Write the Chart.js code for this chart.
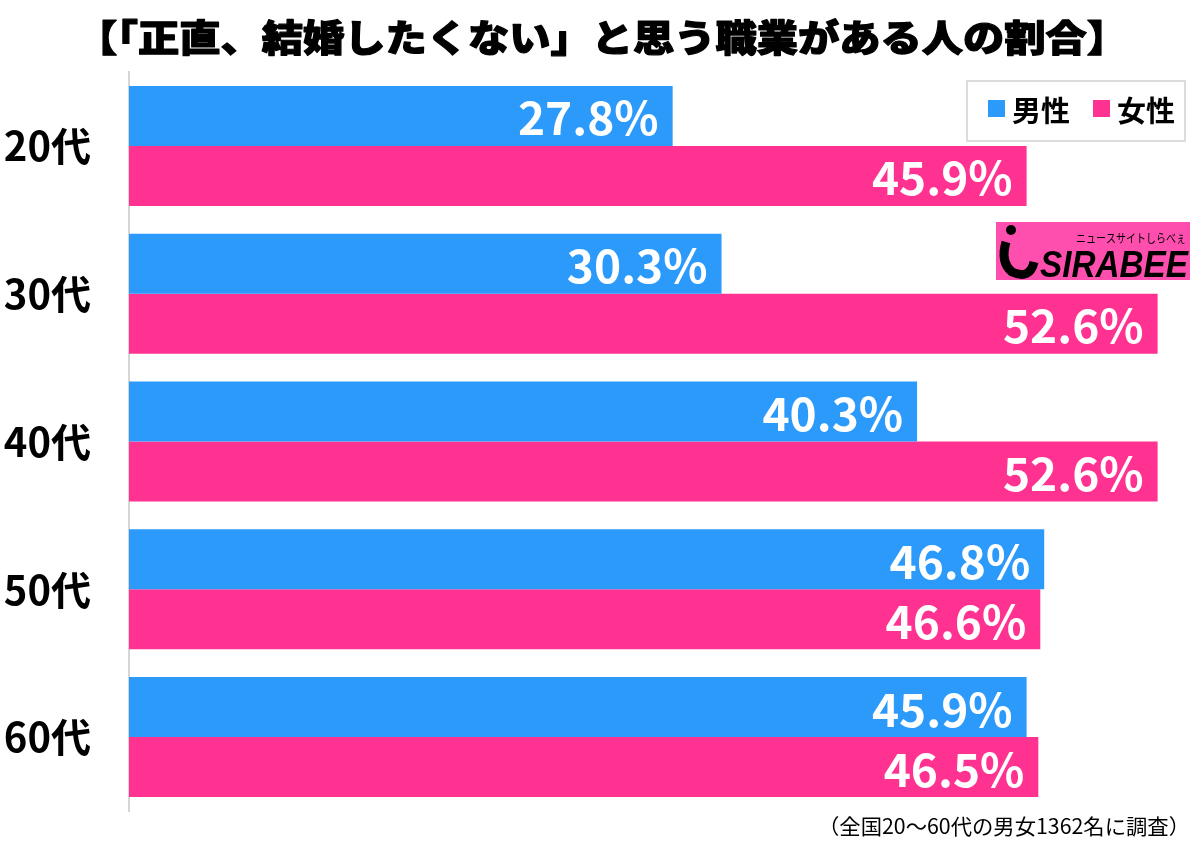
<!DOCTYPE html>
<html>
<head>
<meta charset="utf-8">
<script src="https://cdn.jsdelivr.net/npm/chart.js@4.4.1/dist/chart.umd.min.js"></script>
<style>
html,body{margin:0;padding:0;background:#fff;}
#wrap{width:1202px;height:848px;}
</style>
</head>
<body>
<div id="wrap"><canvas id="c" width="1202" height="848"></canvas></div>
<script>
const categories = ['20代', '30代', '40代', '50代', '60代'];
const seriesNames = ['男性', '女性'];
const maleValues = [27.8, 30.3, 40.3, 46.8, 45.9];
const femaleValues = [45.9, 52.6, 52.6, 46.6, 46.5];
const titleText = '【「正直、結婚したくない」と思う職業がある人の割合】';
const noteText = '（全国20〜60代の男女1362名に調査）';
const logoText = 'SIRABEE';
const logoSub = 'ニュースサイトしらべぇ';

const BLUE = '#2b9afa';
const PINK = '#ff3291';
const FONT = "'Noto Sans CJK JP', 'Noto Sans', sans-serif";

const decor = {
  id: 'decor',
  afterDraw(chart) {
    const ctx = chart.ctx;
    ctx.save();
    // Title
    ctx.fillStyle = '#000';
    ctx.strokeStyle = '#000';
    ctx.lineWidth = 1.2;
    ctx.lineJoin = 'round';
    ctx.font = `900 37px ${FONT}`;
    ctx.textBaseline = 'middle';
    ctx.textAlign = 'left';
    const tw = ctx.measureText(titleText).width;
    ctx.save();
    ctx.translate(76, 38);
    ctx.scale(1052 / tw, 1);
    ctx.fillText(titleText, 0, 0);
    ctx.strokeText(titleText, 0, 0);
    ctx.restore();

    // Data labels
    ctx.font = `bold 46px ${FONT}`;
    ctx.fillStyle = '#fff';
    ctx.textAlign = 'right';
    ctx.textBaseline = 'middle';
    chart.data.datasets.forEach((ds, di) => {
      chart.getDatasetMeta(di).data.forEach((bar, i) => {
        ctx.fillText(ds.data[i].toFixed(1) + '%', bar.x - 14, bar.y + 2);
      });
    });

    // Legend box
    ctx.fillStyle = '#fff';
    ctx.fillRect(967, 81, 218, 60);
    ctx.strokeStyle = '#dcdcdc';
    ctx.lineWidth = 2;
    ctx.strokeRect(967, 81, 218, 60);
    const legendX = [988, 1093];
    const colors = [BLUE, PINK];
    ctx.font = `bold 29px ${FONT}`;
    ctx.textAlign = 'left';
    ctx.textBaseline = 'middle';
    seriesNames.forEach((n, k) => {
      ctx.fillStyle = colors[k];
      ctx.fillRect(legendX[k], 100, 17, 17);
      ctx.fillStyle = '#000';
      ctx.fillText(n, legendX[k] + 24, 111);
    });

    // Logo
    ctx.fillStyle = '#ff4fae';
    ctx.fillRect(996, 222, 194, 58);
    ctx.fillStyle = '#000';
    ctx.beginPath();
    ctx.arc(1011, 230, 5, 0, Math.PI * 2);
    ctx.fill();
    ctx.lineWidth = 9;
    ctx.strokeStyle = '#000';
    ctx.beginPath();
    ctx.moveTo(1006, 242);
    ctx.quadraticCurveTo(1000, 262, 1012, 272);
    ctx.quadraticCurveTo(1030, 280, 1034, 262);
    ctx.stroke();
    ctx.font = `italic bold 36px 'Liberation Sans', sans-serif`;
    ctx.textBaseline = 'alphabetic';
    ctx.textAlign = 'left';
    const lw = ctx.measureText(logoText).width;
    ctx.save();
    ctx.translate(1040, 277);
    ctx.scale(148 / lw, 1);
    ctx.fillText(logoText, 0, 0);
    ctx.restore();
    ctx.font = `12px ${FONT}`;
    const sw = ctx.measureText(logoSub).width;
    ctx.save();
    ctx.translate(1076, 243);
    ctx.scale(110 / sw, 1);
    ctx.fillText(logoSub, 0, 0);
    ctx.restore();

    // Footnote
    ctx.fillStyle = '#000';
    ctx.font = `21px ${FONT}`;
    ctx.textAlign = 'right';
    ctx.textBaseline = 'middle';
    const nw = ctx.measureText(noteText).width;
    ctx.save();
    ctx.translate(1190, 826);
    ctx.scale(372 / nw, 1);
    ctx.fillText(noteText, 0, 0);
    ctx.restore();
    ctx.restore();
  }
};

new Chart(document.getElementById('c'), {
  type: 'bar',
  data: {
    labels: categories,
    datasets: [
      { label: seriesNames[0], data: maleValues, backgroundColor: BLUE, borderWidth: 0 },
      { label: seriesNames[1], data: femaleValues, backgroundColor: PINK, borderWidth: 0 }
    ]
  },
  options: {
    indexAxis: 'y',
    responsive: false,
    animation: false,
    categoryPercentage: 0.812,
    barPercentage: 1.0,
    layout: { padding: { top: 72, bottom: 37, right: 17, left: 0 } },
    plugins: { legend: { display: false }, tooltip: { enabled: false }, title: { display: false } },
    scales: {
      x: { display: false, min: 0, max: 54 },
      y: {
        grid: { display: false },
        border: { display: true, color: '#d6d6d6', width: 2 },
        ticks: { color: '#000', font: { family: FONT, size: 40, weight: 'bold' }, padding: 30 },
        afterFit(s) { s.width = 129; s.paddingTop = 0; s.paddingBottom = 0; }
      }
    }
  },
  plugins: [decor]
});
</script>
</body>
</html>
